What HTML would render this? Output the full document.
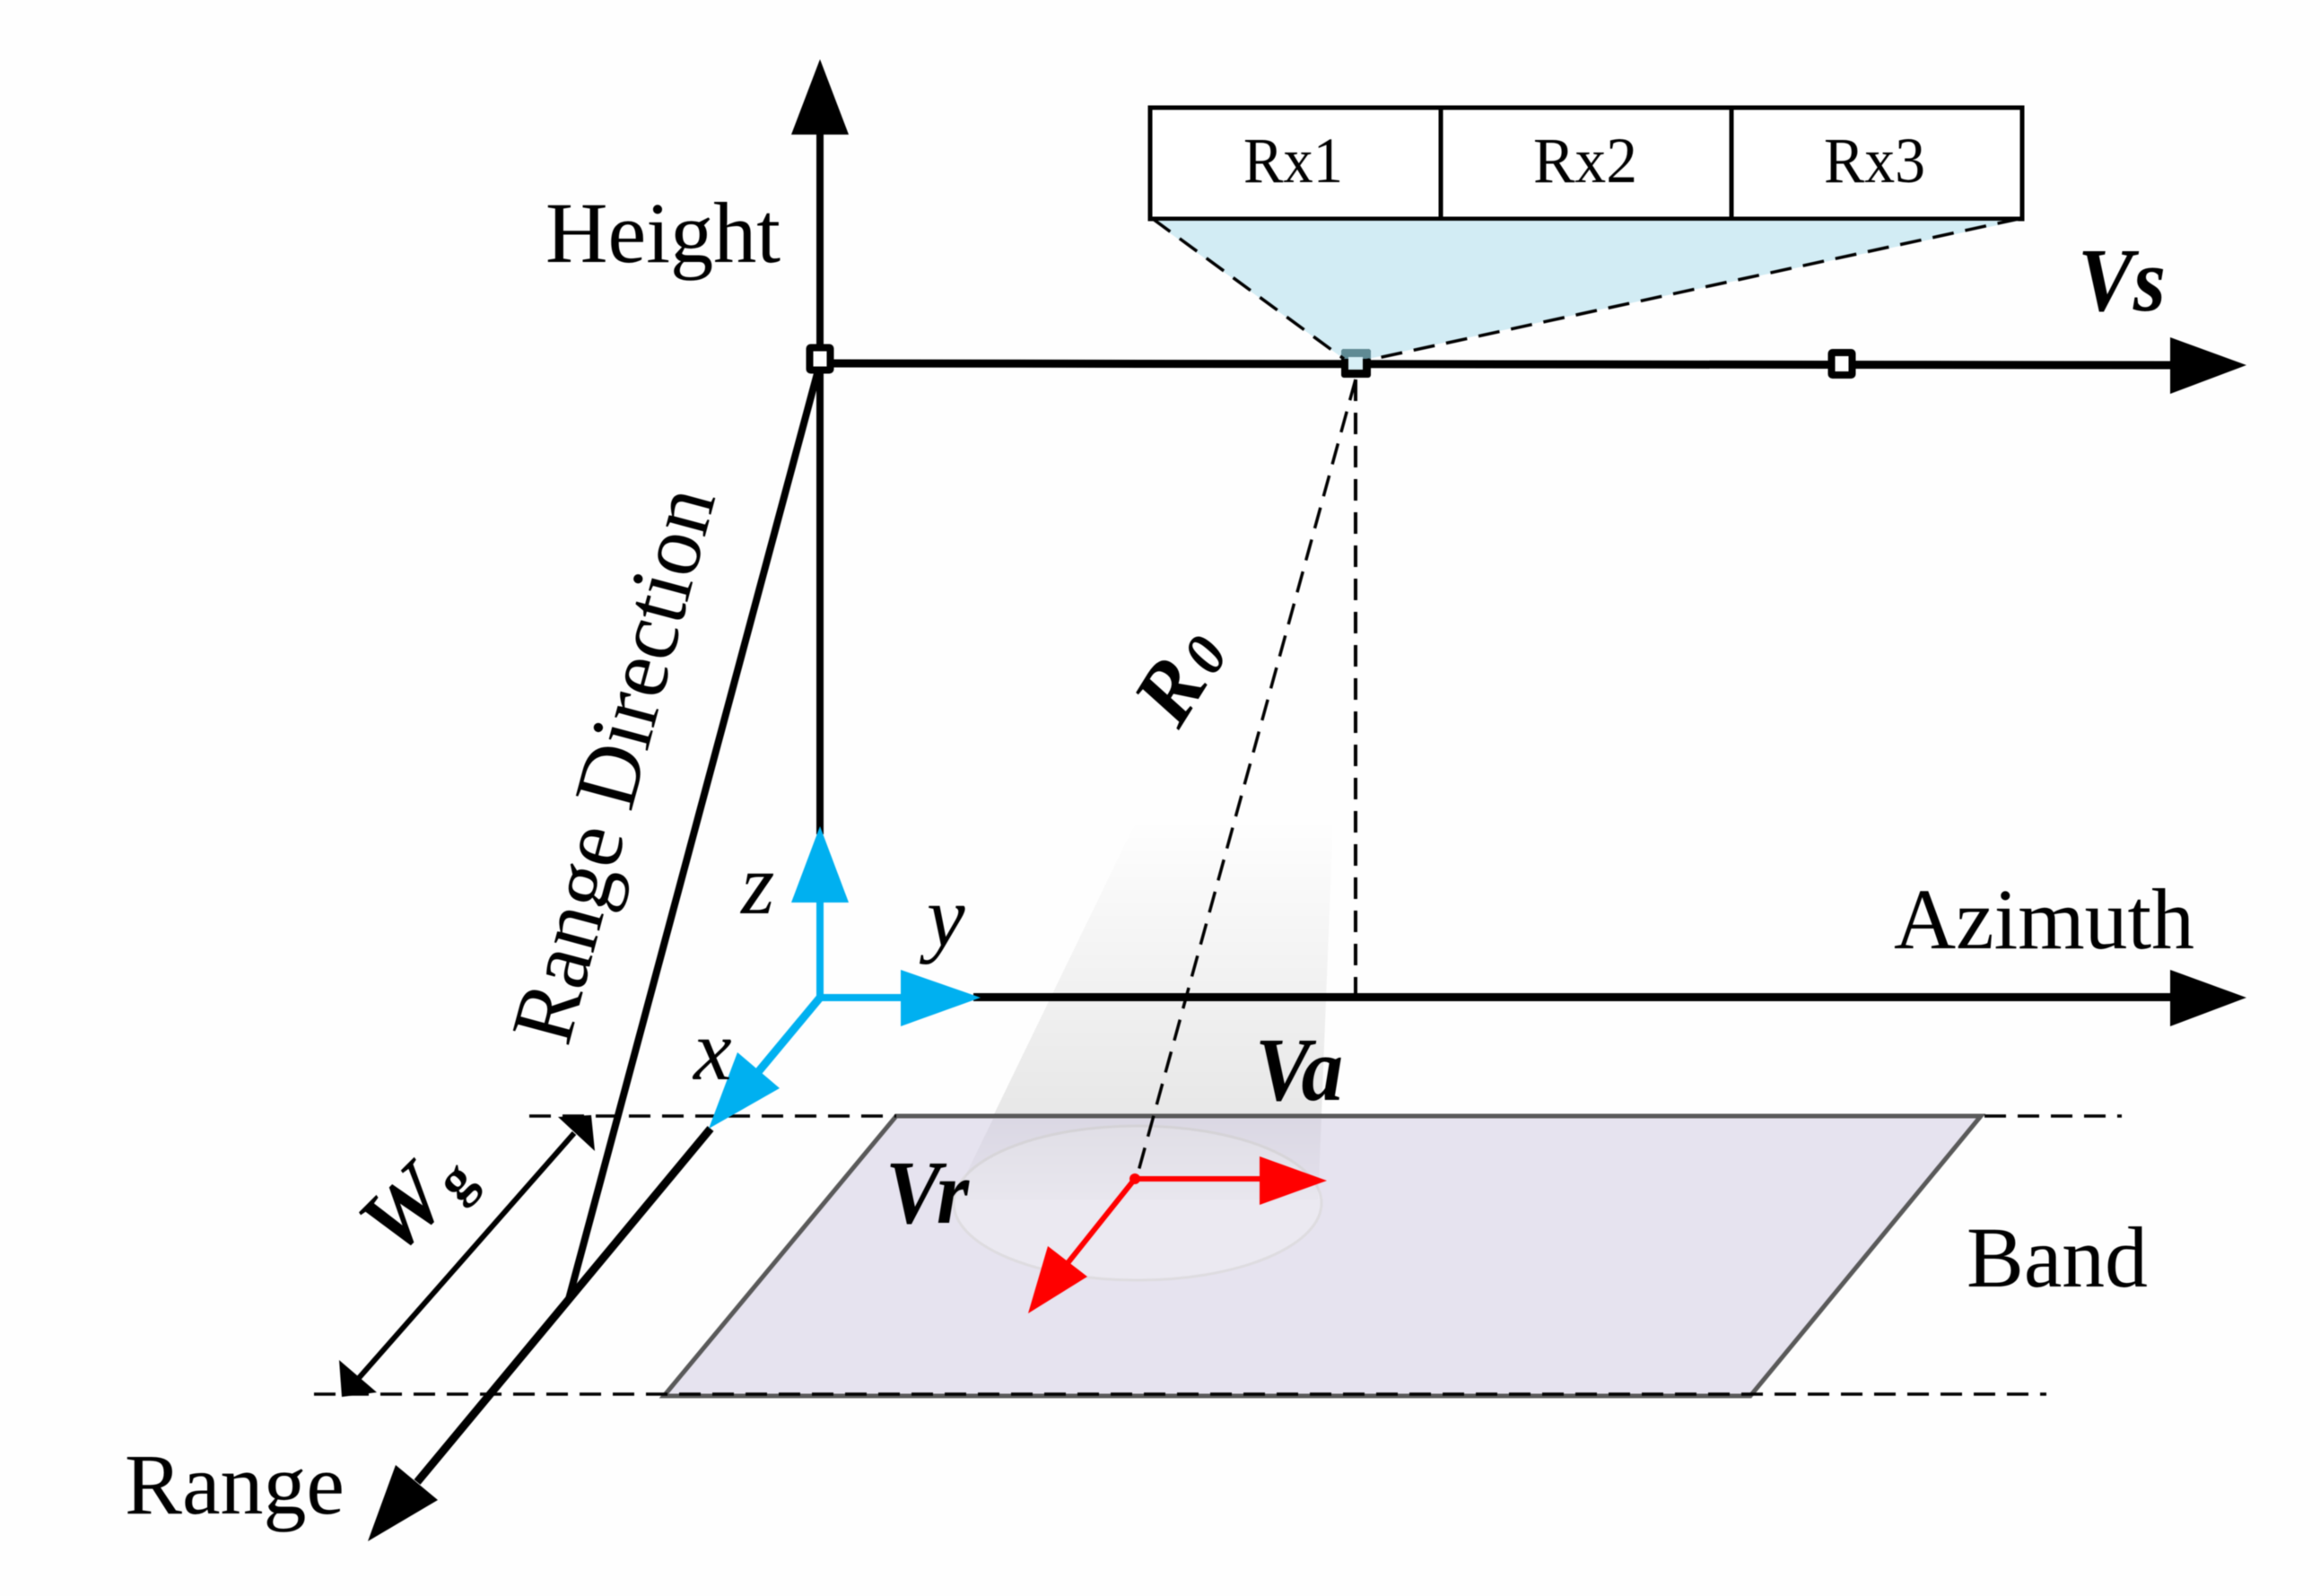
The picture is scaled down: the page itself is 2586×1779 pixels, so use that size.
<!DOCTYPE html>
<html><head><meta charset="utf-8"><style>
html,body{margin:0;padding:0;background:#fff}
svg{display:block;filter:blur(0.6px)}
text{font-family:"Liberation Serif",serif;fill:#000}
.bi{font-weight:bold;font-style:italic}
.i{font-style:italic}
</style></head><body>
<svg xmlns="http://www.w3.org/2000/svg" width="2586" height="1779" viewBox="0 0 2586 1779">
<defs>
<linearGradient id="beam" x1="0" y1="912" x2="0" y2="1244" gradientUnits="userSpaceOnUse">
<stop offset="0" stop-color="#000" stop-opacity="0"/><stop offset="1" stop-color="#000" stop-opacity="0.09"/></linearGradient>
<linearGradient id="beam2" x1="0" y1="1244" x2="0" y2="1337" gradientUnits="userSpaceOnUse">
<stop offset="0" stop-color="#000" stop-opacity="0.05"/><stop offset="1" stop-color="#000" stop-opacity="0.012"/></linearGradient>
</defs>
<rect width="2586" height="1779" fill="#fefefe"/>
<!-- band -->
<polygon points="999,1244 2208,1244 1951,1556 740,1556" fill="#E6E3EF" stroke="#595959" stroke-width="5"/>
<ellipse cx="1268" cy="1341" rx="205" ry="86" fill="#EBE9F1" stroke="#DEDCE0" stroke-width="3"/>
<!-- beam -->
<polygon points="1268,912 1486,912 1473,1242 1108,1242" fill="url(#beam)"/>
<polygon points="1107,1247 1473,1247 1469,1337 1063,1337" fill="url(#beam2)"/>
<!-- dashed -->
<g stroke="#000" stroke-width="3.5" fill="none" stroke-dasharray="24 13">
<line x1="590" y1="1244" x2="999" y2="1244"/>
<line x1="2212" y1="1244" x2="2365" y2="1244"/>
<line x1="350" y1="1554" x2="2281" y2="1554"/>
<line x1="1511" y1="423" x2="1511" y2="1112" stroke-width="4"/>
<line x1="1511" y1="423" x2="1268" y2="1309"/>
</g>
<!-- Rx box -->
<rect x="1282" y="120" width="972" height="124" fill="#fff" stroke="#000" stroke-width="5"/>
<line x1="1606" y1="120" x2="1606" y2="244" stroke="#000" stroke-width="5"/>
<line x1="1930" y1="120" x2="1930" y2="244" stroke="#000" stroke-width="5"/>
<text x="1386" y="203" font-size="72" textLength="111" lengthAdjust="spacingAndGlyphs">Rx1</text>
<text x="1709" y="203" font-size="72" textLength="116" lengthAdjust="spacingAndGlyphs">Rx2</text>
<text x="2033" y="203" font-size="72" textLength="113" lengthAdjust="spacingAndGlyphs">Rx3</text>
<!-- axes black -->
<g stroke="#000" fill="none">
<line x1="914" y1="140" x2="914" y2="930" stroke-width="8"/>
<line x1="914" y1="405" x2="2425" y2="407" stroke-width="9"/>
<line x1="1085" y1="1111.5" x2="2425" y2="1111.5" stroke-width="9"/>
<line x1="914" y1="405" x2="634" y2="1448" stroke-width="8"/>
<line x1="792" y1="1258" x2="465" y2="1652" stroke-width="9"/>
<line x1="400" y1="1536" x2="640" y2="1263" stroke-width="6"/>
</g>
<g fill="#000">
<polygon points="914,66 882,150 946,150"/>
<polygon points="2504,407 2419,376 2419,439"/>
<polygon points="2504,1112 2419,1081 2419,1144"/>
<polygon points="410,1718 441,1633 488,1672"/>
<polygon points="659,1243 622,1245 663,1283"/>
<polygon points="381,1557 378,1516 420,1552"/>
</g>
<!-- squares -->
<g fill="#fff" stroke="#000" stroke-width="8">
<rect x="902.5" y="387.5" width="23" height="25" rx="1"/>
<rect x="2041.5" y="393" width="23" height="25" rx="1"/>
</g>
<!-- triangle -->
<polygon points="1285,246 2250,246 1525,400 1498,400" fill="#D2ECF4"/>
<rect x="1495" y="389" width="33" height="32" rx="3" fill="#000"/>
<path d="M1498,389H1525Q1528,389 1528,392V400H1519V398H1503V400H1495V392Q1495,389 1498,389Z" fill="#5F8A94"/>
<rect x="1503" y="398" width="16" height="14" fill="#D8EFF6"/>
<path d="M1285,244L1498,400M2250,244L1522,402" stroke="#000" stroke-width="3.5" stroke-dasharray="24 13" fill="none"/>
<!-- cyan -->
<g stroke="#00B0F0" stroke-width="8" fill="none">
<line x1="914" y1="1000" x2="914" y2="1112"/>
<line x1="914" y1="1112" x2="1010" y2="1112"/>
<line x1="914" y1="1112" x2="845" y2="1195" stroke-width="9"/>
</g>
<g fill="#00B0F0">
<polygon points="914,921 882,1006 946,1006"/>
<polygon points="1093,1112 1004,1081 1004,1144"/>
<polygon points="790,1258 822,1173 869,1213"/>
</g>
<!-- red -->
<g stroke="#FF0000" stroke-width="6" fill="none">
<line x1="1265" y1="1314" x2="1410" y2="1314"/>
<line x1="1265" y1="1314" x2="1190" y2="1408"/>
</g>
<circle cx="1265" cy="1314" r="6" fill="#f00"/>
<g fill="#FF0000">
<polygon points="1479,1316 1404,1289 1404,1343"/>
<polygon points="1146,1464 1168,1389 1212,1423"/>
</g>
<!-- labels -->
<text x="608" y="292" font-size="96" textLength="262" lengthAdjust="spacingAndGlyphs">Height</text>
<text x="2111" y="1057" font-size="96" textLength="335" lengthAdjust="spacingAndGlyphs">Azimuth</text>
<text x="2192" y="1434" font-size="96" textLength="202" lengthAdjust="spacingAndGlyphs">Band</text>
<text x="139" y="1687" font-size="96" textLength="245" lengthAdjust="spacingAndGlyphs">Range</text>
<text transform="translate(633,1168) rotate(-75)" font-size="98" textLength="636" lengthAdjust="spacingAndGlyphs">Range Direction</text>
<text class="bi" x="2316" y="346" font-size="101" textLength="98" lengthAdjust="spacingAndGlyphs">Vs</text>
<text class="bi" x="1399" y="1226" font-size="101" textLength="98" lengthAdjust="spacingAndGlyphs">Va</text>
<text class="bi" x="987" y="1363" font-size="101" textLength="93" lengthAdjust="spacingAndGlyphs">Vr</text>
<text class="i" x="826" y="1018" font-size="96">z</text>
<text class="i" x="1033" y="1054" font-size="96">y</text>
<text class="i" x="773" y="1203" font-size="96">x</text>
<text class="bi" transform="translate(441,1403) rotate(-45)" font-size="100">W</text>
<text font-weight="bold" transform="translate(511,1341) rotate(-45)" font-size="62">g</text>
<text class="bi" transform="translate(1314,814) rotate(-58)" font-size="96">R</text>
<text class="bi" transform="translate(1353,755) rotate(-58)" font-size="65">0</text>
</svg>
</body></html>
